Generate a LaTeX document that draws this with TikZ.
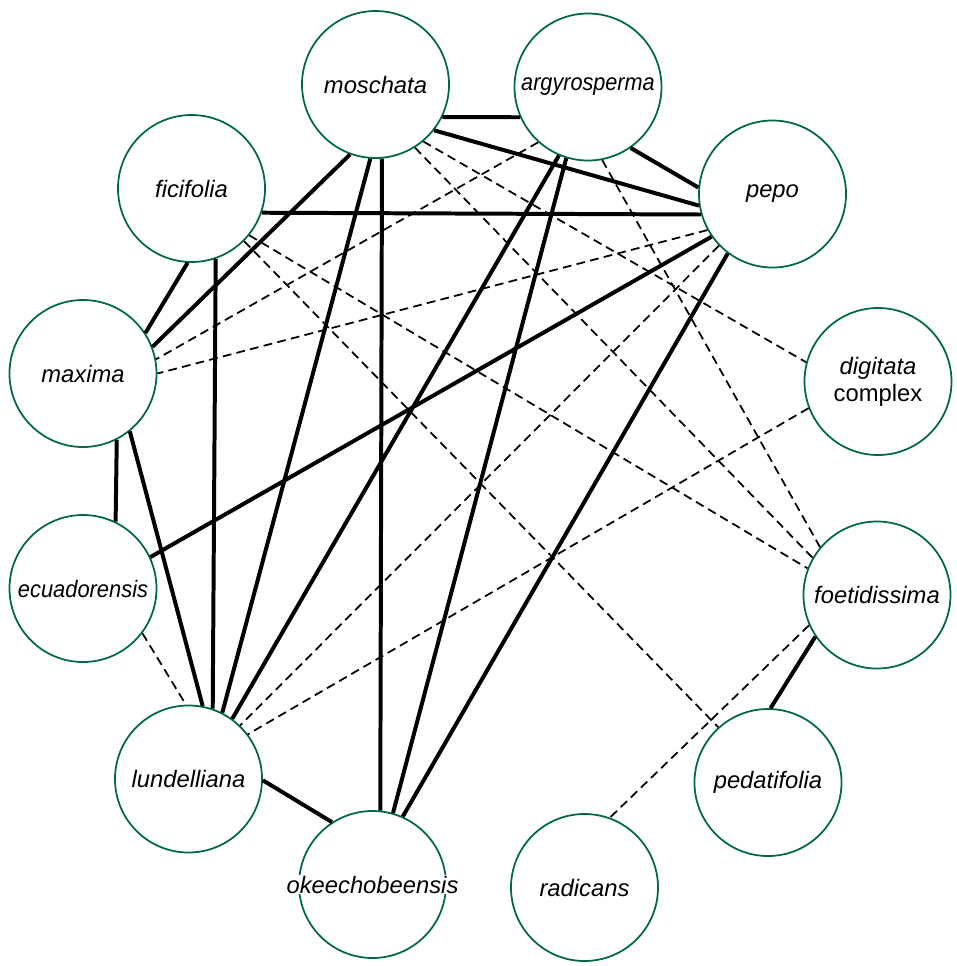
\documentclass[tikz,border=0pt]{standalone}
\usepackage{fontspec}
\setmainfont{Liberation Sans}
\definecolor{nodegreen}{RGB}{0,104,72}
\begin{document}
\begin{tikzpicture}[x=0.03cm,y=-0.03cm,
    sptext/.style={font=\fontsize{20.3}{23}\selectfont\itshape},
    sp/.style={circle,draw=nodegreen,line width=1.5pt,minimum size=4.41cm,
      inner sep=0pt,align=center,sptext},
    solidlink/.style={line width=3.4pt},
    dashlink/.style={line width=1.5pt,dash pattern=on 7.5pt off 4.5pt}]
  \useasboundingbox (0,0) rectangle (957,966);
  \node[sp] (mos) at (375.5,84.5) {moschata};
  \node[sp] (arg) at (588,87) {\scalebox{0.91}[1]{argyrosperma}};
  \node[sp] (pepo) at (772.5,194) {pepo};
  \node[sp] (fic) at (191.5,188.5) {ficifolia};
  \node[sp] (max) at (83,373.5) {maxima};
  \node[sp] (dig) at (878,381.5) {digitata\\\upshape complex};
  \node[sp] (ecu) at (83,588.5) {\scalebox{0.92}[1]{ecuadorensis}};
  \node[sp] (foet) at (877,595) {foetidissima};
  \node[sp] (lund) at (188.5,779) {lundelliana};
  \node[sp] (ped) at (768,782.5) {pedatifolia};
  \node[sp,label={[sptext,fill=white,inner sep=1pt]center:okeechobeensis}] (okee) at (372.5,884.5) {};
  \node[sp] (rad) at (584.5,887.5) {radicans};
  % strong links
  \draw[solidlink] (mos.-26) -- (arg.-156)
    (mos.-38) -- (pepo.-171)
    (arg.-55.5) -- (pepo.175)
    (fic.-19) -- (pepo.-164)
    (mos.-110) -- (max.21)
    (fic.-93.5) -- (max.33)
    (fic.-71) -- (lund.71)
    (mos.-94) -- (lund.63.5)
    (mos.-85) -- (okee.84)
    (arg.-113) -- (lund.54)
    (arg.-107.5) -- (okee.74)
    (pepo.-127.6) -- (okee.66)
    (pepo.-145.5) -- (ecu.25)
    (max.-63) -- (ecu.64)
    (max.-51) -- (lund.79.7)
    (lund.-1) -- (okee.123)
    (foet.-146.7) -- (ped.88.5);
  % weaker links
  \draw[dashlink] (arg.-132) -- (max.11)
    (pepo.-151) -- (max.0)
    (mos.-50.4) -- (dig.165)
    (mos.-58) -- (foet.150)
    (arg.-79) -- (foet.140)
    (fic.-39) -- (foet.159)
    (fic.-45) -- (ped.132)
    (pepo.-136) -- (lund.46)
    (dig.-159) -- (lund.37.7)
    (ecu.-37.7) -- (lund.92.6)
    (foet.-156) -- (rad.70);
\end{tikzpicture}
\end{document}
